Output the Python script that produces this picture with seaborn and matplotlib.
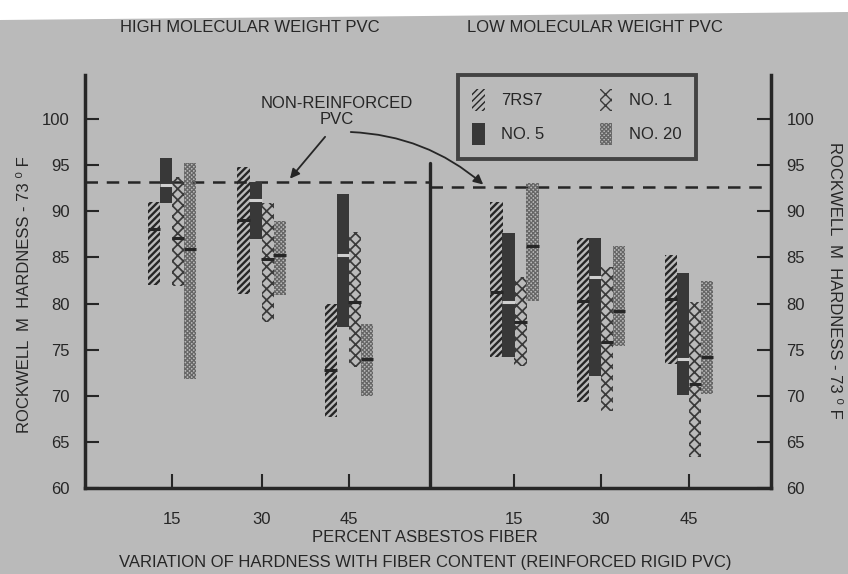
import numpy as np
import pandas as pd
import matplotlib
matplotlib.use("Agg")
import matplotlib.pyplot as plt
from matplotlib.patches import Patch, Polygon
import seaborn as sns

# ---------------- data ----------------
groups = ["HMW 15", "HMW 30", "HMW 45", "LMW 15", "LMW 30", "LMW 45"]
group_pos = [0.0, 1.02, 2.01, 3.89, 4.875, 5.875]
tick_labels = ["15", "30", "45", "15", "30", "45"]
grades = ["7RS7", "NO. 5", "NO. 1", "NO. 20"]

low_7rs7 = [82.0, 81.0, 67.7, 74.2, 69.3, 73.4]
high_7rs7 = [91.0, 94.8, 80.0, 91.0, 87.1, 85.3]
med_7rs7 = [88.1, 89.0, 72.8, 81.2, 80.3, 80.5]

low_no5 = [90.9, 87.0, 77.5, 74.2, 72.1, 70.1]
high_no5 = [95.8, 93.2, 91.9, 87.6, 87.1, 83.3]
med_no5 = [92.8, 91.2, 85.3, 80.2, 82.9, 74.0]

low_no1 = [81.9, 78.0, 73.1, 73.2, 68.3, 63.4]
high_no1 = [93.7, 90.9, 87.8, 82.9, 84.0, 80.2]
med_no1 = [87.1, 84.8, 80.2, 78.0, 75.8, 71.3]

low_no20 = [71.8, 80.9, 70.0, 80.3, 75.4, 70.2]
high_no20 = [95.2, 88.9, 77.8, 93.1, 86.2, 82.4]
med_no20 = [85.9, 85.3, 74.0, 86.2, 79.2, 74.2]

nonreinforced_hmw = 93.2
nonreinforced_lmw = 92.6
y_ticks = [60, 65, 70, 75, 80, 85, 90, 95, 100]

# ---------------- style ----------------
sns.set_theme(style="white")
plt.rcParams["font.family"] = ["Liberation Sans Narrow", "Liberation Sans", "DejaVu Sans"]

BG = "#bababa"
INK = "#262626"
FS = 12

rows = []
for g, p, lo, hi, md in zip(groups, group_pos, low_7rs7, high_7rs7, med_7rs7):
    rows.append((g, p, "7RS7", lo, hi, md))
for g, p, lo, hi, md in zip(groups, group_pos, low_no5, high_no5, med_no5):
    rows.append((g, p, "NO. 5", lo, hi, md))
for g, p, lo, hi, md in zip(groups, group_pos, low_no1, high_no1, med_no1):
    rows.append((g, p, "NO. 1", lo, hi, md))
for g, p, lo, hi, md in zip(groups, group_pos, low_no20, high_no20, med_no20):
    rows.append((g, p, "NO. 20", lo, hi, md))
df = pd.DataFrame(rows, columns=["group", "pos", "grade", "low", "high", "median"])

offsets = {"7RS7": -0.205, "NO. 5": -0.068, "NO. 1": 0.068, "NO. 20": 0.205}
df["x"] = df["pos"] + df["grade"].map(offsets)
width = 0.142

styles = {
    "7RS7": dict(facecolor="none", edgecolor=INK, hatch="/////", hlw=1.7),
    "NO. 5": dict(facecolor="#383838", edgecolor="#383838", hatch=None, hlw=1.0),
    "NO. 1": dict(facecolor="none", edgecolor="#3a3a3a", hatch="xxx", hlw=1.25),
    "NO. 20": dict(facecolor="none", edgecolor="#666666", hatch="xxxxxxxx", hlw=0.9),
}

fig = plt.figure(figsize=(8.48, 5.74), dpi=100, facecolor=BG)
# white scan edge at top
fig.patches.append(Polygon([[0, 1], [1, 1], [1, 1 - 12 / 574], [0, 1 - 20 / 574]],
                           closed=True, transform=fig.transFigure, facecolor="white",
                           edgecolor="none", zorder=0))
ax = fig.add_axes([85 / 848, 1 - 488 / 574, (771 - 85) / 848, (488 - 75) / 574])
ax.set_facecolor(BG)

for grade in grades:
    sub = df[df["grade"] == grade]
    st = styles[grade]
    with plt.rc_context({"hatch.linewidth": st["hlw"]}):
        ax.bar(sub["x"], sub["high"] - sub["low"], bottom=sub["low"], width=width,
               facecolor=st["facecolor"], edgecolor=st["edgecolor"], hatch=st["hatch"],
               linewidth=0, zorder=3)

# medians
df["mcol"] = np.where(df["grade"] == "NO. 5", "light", "dark")
sns.scatterplot(data=df, x="x", y="median", hue="mcol",
                palette={"light": "#d0d0d0", "dark": INK}, marker="_", s=85,
                linewidth=2.2, legend=False, zorder=4, ax=ax)

# non-reinforced reference lines and divider
x_div = 2.93
ax.plot([-0.989, x_div], [nonreinforced_hmw] * 2, ls=(0, (5, 3.5)), color=INK, lw=1.8, zorder=2)
ax.plot([x_div, 6.807], [nonreinforced_lmw] * 2, ls=(0, (5, 3.5)), color=INK, lw=1.8, zorder=2)
ax.plot([x_div, x_div], [60, 95.2], color=INK, lw=2.4, zorder=2)

ax.set_xlim(-0.989, 6.807)
ax.set_ylim(60, 104.77)
ax.set_xticks(group_pos)
ax.set_xticklabels(tick_labels)
ax.set_yticks(y_ticks)
ax.set_yticklabels([str(v) for v in y_ticks])
ax.set_xlabel("")
ax.set_ylabel("")
ax.tick_params(axis="y", direction="in", length=10, width=1.5, color=INK,
               left=True, right=True, labelleft=True, labelright=True,
               pad=11, labelsize=FS, labelcolor=INK)
ax.tick_params(axis="x", direction="in", length=10, width=1.5, color=INK,
               bottom=True, pad=17, labelsize=FS, labelcolor=INK)
for s in ["left", "right", "bottom"]:
    ax.spines[s].set_linewidth(2.5)
    ax.spines[s].set_color(INK)
    ax.spines[s].set_visible(True)
ax.spines["top"].set_visible(False)
ax.grid(False)

# annotation
ax.text(1.875, 100.8, "NON-REINFORCED\nPVC", ha="center", va="center",
        fontsize=FS, color=INK, linespacing=1.1)
ax.annotate("", xy=(1.32, 93.3), xytext=(1.76, 98.3),
            arrowprops=dict(arrowstyle="-|>", color=INK, lw=1.3, mutation_scale=14))
ax.annotate("", xy=(3.56, 92.7), xytext=(2.0, 98.6),
            arrowprops=dict(arrowstyle="-|>", color=INK, lw=1.3, mutation_scale=14,
                            connectionstyle="arc3,rad=-0.18"))

# legend
handles = []
for grade in grades:
    st = styles[grade]
    handles.append(Patch(facecolor=st["facecolor"], edgecolor=st["edgecolor"],
                         hatch=st["hatch"], linewidth=0, label=grade))
leg = ax.legend(handles=handles, ncol=2, loc="upper left",
                bbox_to_anchor=((458 - 85) / 686, (488 - 75) / 413),
                borderaxespad=0.0,
                frameon=True, fontsize=FS, handlelength=0.75, handleheight=1.6,
                handletextpad=1.0, columnspacing=3.3, labelspacing=0.75,
                borderpad=0.85, fancybox=False, labelcolor=INK)
leg.get_frame().set_facecolor(BG)
leg.get_frame().set_edgecolor(INK)
leg.get_frame().set_linewidth(2.8)

# texts
fig.text(250 / 848, 1 - 27 / 574, "HIGH MOLECULAR WEIGHT PVC", ha="center", va="center",
         fontsize=FS, color=INK)
fig.text(595 / 848, 1 - 27 / 574, "LOW MOLECULAR WEIGHT PVC", ha="center", va="center",
         fontsize=FS, color=INK)
fig.text(25 / 848, 1 - 295 / 574, "ROCKWELL  M  HARDNESS - 73 \u2070 F", rotation=90,
         ha="center", va="center", fontsize=FS, color=INK)
fig.text(835 / 848, 1 - 280 / 574, "ROCKWELL  M  HARDNESS - 73 \u2070 F", rotation=270,
         ha="center", va="center", fontsize=FS, color=INK)
fig.text(425 / 848, 1 - 537 / 574, "PERCENT ASBESTOS FIBER", ha="center", va="center",
         fontsize=FS, color=INK)
fig.text(425 / 848, 1 - 562 / 574,
         "VARIATION OF HARDNESS WITH FIBER CONTENT (REINFORCED RIGID PVC)",
         ha="center", va="center", fontsize=FS, color=INK)

fig.savefig("out.png", dpi=100, facecolor=BG)
